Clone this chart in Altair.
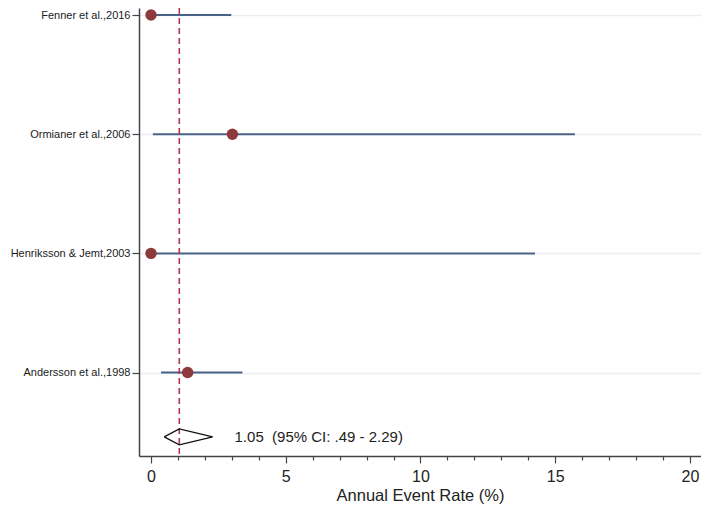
import altair as alt
import pandas as pd

# ---- data ----
studies = ["Fenner et al.,2016", "Ormianer et al.,2006", "Henriksson & Jemt,2003", "Andersson et al.,1998"]
row_pos = [5, 4, 3, 2]
estimates = [0.0, 3.02, 0.0, 1.36]
ci_low = [0.0, 0.07, 0.0, 0.37]
ci_high = [2.98, 15.73, 14.25, 3.39]

pooled_est = 1.05
pooled_lo = 0.49
pooled_hi = 2.29
pooled_row = 1.46
diamond_half = 0.067
pooled_label = "1.05\u00a0\u00a0(95% CI: .49 - 2.29)"
label_x = 3.1

x_ticks = list(range(0, 21))

FONT = "Liberation Sans"

df = pd.DataFrame({"study": studies, "row": row_pos, "est": estimates, "lo": ci_low, "hi": ci_high})

diamond = pd.DataFrame({
    "x": [pooled_lo, pooled_est, pooled_hi, pooled_est, pooled_lo],
    "y": [pooled_row, pooled_row + diamond_half, pooled_row, pooled_row - diamond_half, pooled_row],
    "o": [0, 1, 2, 3, 4],
})
pooled_df = pd.DataFrame({"x": [pooled_est]})
text_df = pd.DataFrame({"x": [label_x], "y": [pooled_row], "t": [pooled_label]})

label_expr = " : ".join(f"datum.value == {r} ? '{s}'" for r, s in zip(row_pos, studies)) + " : ''"

xscale = alt.Scale(domain=[-0.445, 20.41], nice=False, zero=False)
yscale = alt.Scale(domain=[1.30, 5.059], nice=False, zero=False)

xaxis = alt.Axis(
    values=x_ticks, format="d", orient="bottom",
    labelExpr="datum.value % 5 === 0 ? datum.label : ''",
    labelOverlap=False, labelFlush=False,
    tickSize={"condition": {"test": "datum.value % 5 === 0", "value": 7}, "value": 4},
    title="Annual Event Rate (%)", titleFontSize=16.5, titleFont=FONT, titleFontWeight="normal",
    titleColor="#222", titlePadding=3,
    labelFontSize=16, labelFont=FONT, labelColor="#222", labelPadding=5,
    domainColor="#444", domainWidth=1.5, tickColor="#444", tickWidth=1.2, grid=False,
)
yaxis = alt.Axis(
    values=row_pos, labelExpr=label_expr, title=None, orient="left",
    labelFontSize=11, labelFont=FONT, labelColor="#1a1a1a", labelPadding=2,
    labelOverlap=False,
    tickSize=7, tickColor="#444", tickWidth=1.2,
    domainColor="#444", domainWidth=1.5,
    grid=True, gridColor="#e9edf1", gridWidth=1.5,
)

X = lambda f: alt.X(f, scale=xscale, axis=xaxis)
Y = lambda f: alt.Y(f, scale=yscale, axis=yaxis)

ci = alt.Chart(df).mark_rule(color="#4a6285", strokeWidth=2).encode(
    x=X("lo:Q"), x2="hi:Q", y=Y("row:Q"),
)
pts = alt.Chart(df).mark_circle(color="#8e3a3c", opacity=1, size=130).encode(
    x=X("est:Q"), y=Y("row:Q"),
)
ref = alt.Chart(pooled_df).mark_rule(color="#b8334f", strokeWidth=1.6, strokeDash=[6, 4]).encode(
    x=X("x:Q"),
)
dia = alt.Chart(diamond).mark_line(color="#111", strokeWidth=1.3).encode(
    x=X("x:Q"), y=Y("y:Q"), order="o:O",
)
txt = alt.Chart(text_df).mark_text(align="left", baseline="middle", fontSize=15, font=FONT, color="#222").encode(
    x=X("x:Q"), y=Y("y:Q"), text="t:N",
)

chart = alt.layer(ci, ref, pts, dia, txt).properties(
    width=562, height=448,
    autosize=alt.AutoSizeParams(type="none"),
    padding={"left": 131, "top": 0, "right": 0, "bottom": 48},
).configure(background="white").configure_view(strokeWidth=0, stroke="transparent")

chart.save("out.html", embed_options={"renderer": "svg", "actions": False})
